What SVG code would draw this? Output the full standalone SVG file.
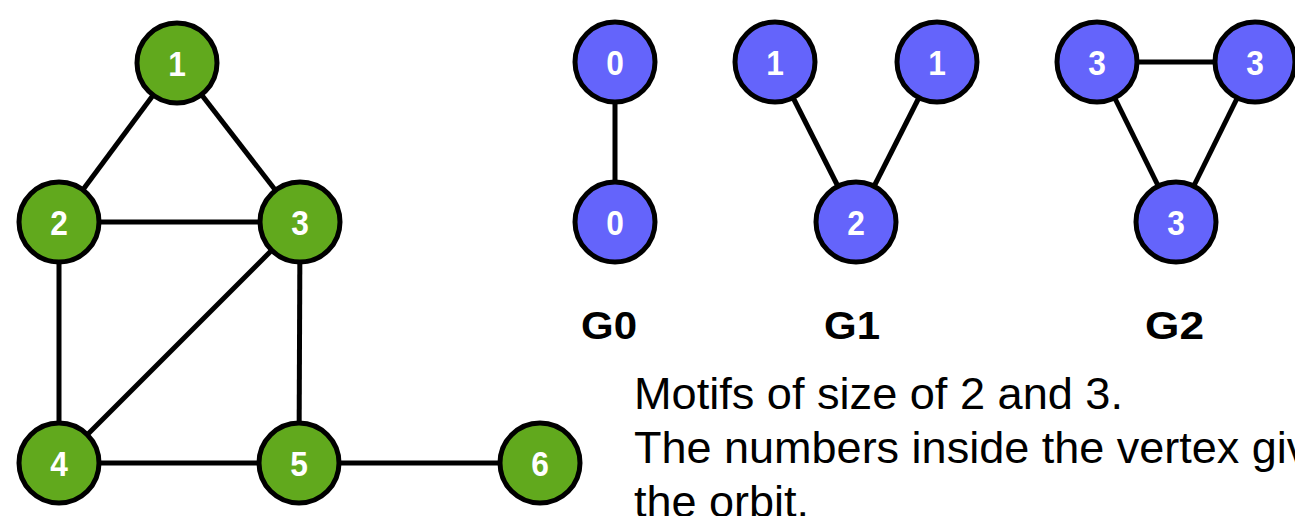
<svg xmlns="http://www.w3.org/2000/svg" width="1295" height="516" viewBox="0 0 1295 516">
  <style>
    .edge { stroke: #000; stroke-width: 5; fill: none; }
    .vg { fill: #61a91d; stroke: #000; stroke-width: 5; }
    .vb { fill: #6464fb; stroke: #000; stroke-width: 5; }
    .num { font-family: "Liberation Sans", Arial, sans-serif; font-weight: bold; font-size: 36px; fill: #fff; text-anchor: middle; }
    .title { font-family: "Liberation Sans", Arial, sans-serif; font-weight: bold; font-size: 39px; fill: #000; }
    .note { font-family: "Liberation Sans", Arial, sans-serif; font-size: 45px; fill: #000; }
  </style>
  <defs>
    <circle id="disc" r="40"/>
  </defs>
  <rect width="1295" height="516" fill="#fff"/>

  <!-- edges -->
  <g id="edges">
    <!-- main graph -->
    <line class="edge" x1="177" y1="63" x2="59" y2="222"/>
    <line class="edge" x1="177" y1="63" x2="300" y2="222"/>
    <line class="edge" x1="59" y1="222" x2="300" y2="222"/>
    <line class="edge" x1="59" y1="222" x2="59" y2="463"/>
    <line class="edge" x1="300" y1="222" x2="59" y2="463"/>
    <line class="edge" x1="300" y1="222" x2="299" y2="463"/>
    <line class="edge" x1="59" y1="463" x2="299" y2="463"/>
    <line class="edge" x1="299" y1="463" x2="540" y2="463"/>
    <!-- G0 -->
    <line class="edge" x1="615" y1="62" x2="615" y2="222"/>
    <!-- G1 -->
    <line class="edge" x1="775" y1="62" x2="856" y2="222"/>
    <line class="edge" x1="937" y1="62" x2="856" y2="222"/>
    <!-- G2 -->
    <line class="edge" x1="1097" y1="62" x2="1255" y2="62"/>
    <line class="edge" x1="1097" y1="62" x2="1176" y2="222"/>
    <line class="edge" x1="1255" y1="62" x2="1176" y2="222"/>
  </g>

  <!-- main graph vertices -->
  <g id="v1" transform="translate(177,63)"><use href="#disc" class="vg"/><text class="num" y="13" transform="scale(0.88,1)">1</text></g>
  <g id="v2" transform="translate(59,222)"><use href="#disc" class="vg"/><text class="num" y="13" transform="scale(0.88,1)">2</text></g>
  <g id="v3" transform="translate(300,222)"><use href="#disc" class="vg"/><text class="num" y="13" transform="scale(0.88,1)">3</text></g>
  <g id="v4" transform="translate(59,463)"><use href="#disc" class="vg"/><text class="num" y="13" transform="scale(0.88,1)">4</text></g>
  <g id="v5" transform="translate(299,463)"><use href="#disc" class="vg"/><text class="num" y="13" transform="scale(0.88,1)">5</text></g>
  <g id="v6" transform="translate(540,463)"><use href="#disc" class="vg"/><text class="num" y="13" transform="scale(0.88,1)">6</text></g>

  <!-- motif G0 -->
  <g id="g0a" transform="translate(615,62)"><use href="#disc" class="vb"/><text class="num" y="13" transform="scale(0.88,1)">0</text></g>
  <g id="g0b" transform="translate(615,222)"><use href="#disc" class="vb"/><text class="num" y="13" transform="scale(0.88,1)">0</text></g>
  <!-- motif G1 -->
  <g id="g1a" transform="translate(775,62)"><use href="#disc" class="vb"/><text class="num" y="13" transform="scale(0.88,1)">1</text></g>
  <g id="g1b" transform="translate(937,62)"><use href="#disc" class="vb"/><text class="num" y="13" transform="scale(0.88,1)">1</text></g>
  <g id="g1c" transform="translate(856,222)"><use href="#disc" class="vb"/><text class="num" y="13" transform="scale(0.88,1)">2</text></g>
  <!-- motif G2 -->
  <g id="g2a" transform="translate(1097,62)"><use href="#disc" class="vb"/><text class="num" y="13" transform="scale(0.88,1)">3</text></g>
  <g id="g2b" transform="translate(1255,62)"><use href="#disc" class="vb"/><text class="num" y="13" transform="scale(0.88,1)">3</text></g>
  <g id="g2c" transform="translate(1176,222)"><use href="#disc" class="vb"/><text class="num" y="13" transform="scale(0.88,1)">3</text></g>

  <!-- motif labels -->
  <g id="labels">
    <text class="title" x="581" y="339" textLength="56" lengthAdjust="spacingAndGlyphs">G0</text>
    <text class="title" x="824" y="339" textLength="56" lengthAdjust="spacingAndGlyphs">G1</text>
    <text class="title" x="1145" y="339" textLength="59" lengthAdjust="spacingAndGlyphs">G2</text>
  </g>

  <!-- caption -->
  <g id="caption">
    <text class="note" x="634" y="409" textLength="489" lengthAdjust="spacingAndGlyphs">Motifs of size of 2 and 3.</text>
    <text class="note" x="634" y="463">The numbers inside the vertex give</text>
    <text class="note" x="634" y="517">the orbit.</text>
  </g>
</svg>
